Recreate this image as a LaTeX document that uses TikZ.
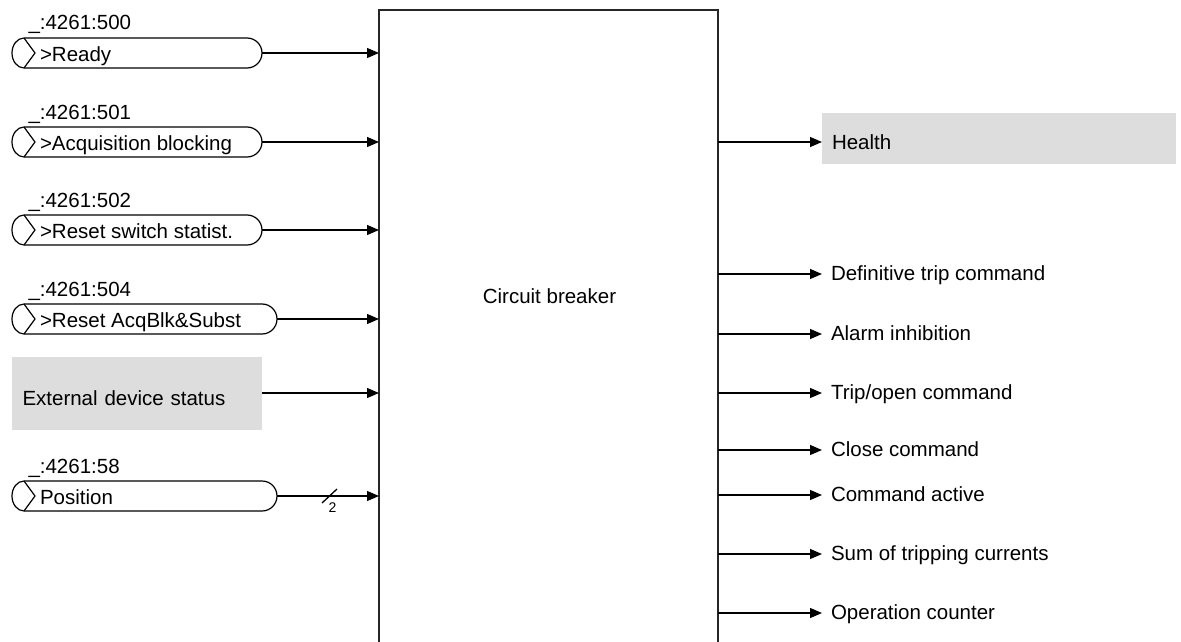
\documentclass[tikz,border=0pt]{standalone}
\usepackage{fontspec}
\setmainfont{Liberation Sans}
\usetikzlibrary{arrows.meta}
\definecolor{boxgray}{HTML}{DDDDDD}
\tikzset{
  txt/.style={font=\fontsize{20.5}{24}\selectfont, inner sep=0pt, outer sep=0pt},
  small/.style={font=\fontsize{14}{16}\selectfont, inner sep=0pt, outer sep=0pt},
  outl/.style={draw=black, line width=1.2pt},
  inframe/.style={rectangle, draw=none, inner sep=0pt, outer sep=0pt, minimum height=30},
  sig/.style={line width=1.2pt, -{Triangle[length=12pt,width=10pt]}},
  outtxt/.style={txt, anchor=west, inner xsep=9pt, text height=16pt, text depth=3pt},
  graybox/.style={rectangle, fill=boxgray, draw=none, inner sep=0pt, outer sep=0pt, align=left,
    font=\fontsize{20.5}{24}\selectfont},
  cbbox/.style={rectangle, draw=black!85, line width=1.4pt, inner sep=0pt, outer sep=0pt}
}
\newcommand\siginput[6]{%
  \node[inframe, minimum width={#3-#2}] (#1) at ({(#2+#3)/2},#4) {};
  \draw[outl] ([xshift=12pt]#1.north west) -- ([xshift=-15pt]#1.north east)
     arc[start angle=-90, end angle=90, radius=15] -- ([xshift=12pt]#1.south west)
     arc[start angle=90, end angle=270, x radius=12, y radius=15] -- cycle;
  \draw[outl] ([xshift=12pt]#1.north west) -- ([xshift=23pt]#1.west) -- ([xshift=12pt]#1.south west);
  \node[txt, anchor=base west] (#1t) at ([xshift=28pt, yshift=-8.5pt]#1.west) {#6};
  \node[txt, anchor=base west] (#1l) at ([xshift=16.5pt, yshift=8pt]#1.north west) {#5};
}
\begin{document}
\begin{tikzpicture}[x=1pt, y=-1pt]
\useasboundingbox (0,0) rectangle (1181,642);

% main block
\node[cbbox, minimum width=339, minimum height=650] (cb) at (548.5,335) {};
\node[txt, anchor=base] (cbl) at (549.5,303) {Circuit breaker};

% inputs
\siginput{in1}{12}{262}{53}{\_:4261:500}{>Ready}
\siginput{in2}{12}{262}{142}{\_:4261:501}{>Acquisition blocking}
\siginput{in3}{12}{262}{230}{\_:4261:502}{>Reset switch statist.}
\siginput{in4}{12}{277}{319}{\_:4261:504}{>Reset AcqBlk\&Subst}
\siginput{in6}{12}{277}{496}{\_:4261:58}{Position}

\node[graybox, minimum width=250, minimum height=73, text width=229, inner xsep=10.5pt,
      text height=28pt, text depth=3pt] (ext) at (137,393) {External device status};

\draw[sig] (in1.east) -- (in1.east -| cb.west);
\draw[sig] (in2.east) -- (in2.east -| cb.west);
\draw[sig] (in3.east) -- (in3.east -| cb.west);
\draw[sig] (in4.east) -- (in4.east -| cb.west);
\draw[sig] (ext.east) -- (ext.east -| cb.west);
\draw[sig] (in6.east) -- coordinate[pos=0.5] (bus) (in6.east -| cb.west);
\draw[line width=1.3pt] ([shift={(-6,7)}]bus) -- ([shift={(9,-7)}]bus);
\node[small] (bw) at ([shift={(4.5,11.5)}]bus) {2};

% outputs
\node[graybox, anchor=west, minimum width=354, minimum height=51, text width=334, inner xsep=10pt,
      text height=24pt, text depth=3pt] (health) at (822,138.5) {Health};
\draw[sig] (cb.east |- 0,142) -- ([yshift=-3.5pt]health.west);

\node[outtxt] (o1) at (822,274) {Definitive trip command};
\node[outtxt] (o2) at (822,334) {Alarm inhibition};
\node[outtxt] (o3) at (822,393) {Trip/open command};
\node[outtxt] (o4) at (822,450) {Close command};
\node[outtxt] (o5) at (822,495) {Command active};
\node[outtxt] (o6) at (822,554) {Sum of tripping currents};
\node[outtxt] (o7) at (822,613) {Operation counter};
\foreach \o in {o1,o2,o3,o4,o5,o6,o7}
  \draw[sig] (cb.east |- \o.west) -- (\o.west);
\end{tikzpicture}
\end{document}
